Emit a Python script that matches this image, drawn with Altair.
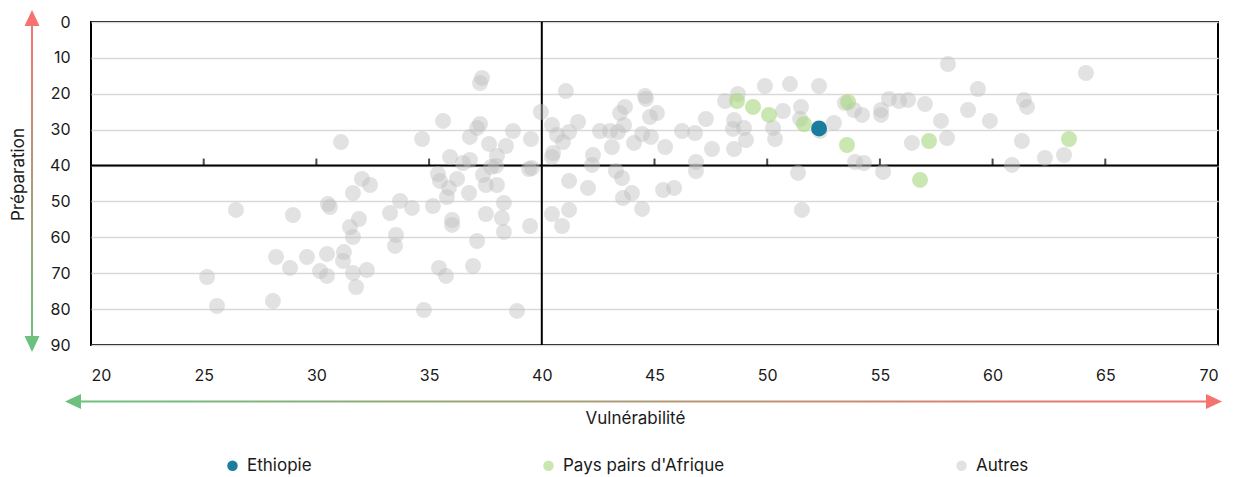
import altair as alt
import pandas as pd

# ---- data ----
autres_x = [25.15, 25.59, 26.43, 28.07, 28.21, 28.83, 28.96, 29.58, 30.16, 30.47, 30.47, 30.51, 30.60,
            31.09, 31.22, 31.18, 31.49, 31.62, 31.62, 31.76, 31.62, 31.89, 32.02, 32.38, 32.24, 33.27,
            33.53, 33.49, 33.71, 34.24, 34.69, 34.77, 35.17, 35.39, 35.48, 35.44, 35.62, 35.75, 35.79,
            35.93, 36.02, 36.02, 35.88, 36.24, 36.50, 36.81, 36.77, 36.81, 37.13, 37.26, 36.95, 37.35,
            37.26, 37.13, 37.39, 37.52, 37.66, 37.52, 37.75, 38.01, 38.01, 37.97, 38.32, 38.23, 38.32,
            38.41, 38.72, 38.90, 39.43, 39.48, 39.52, 39.96, 40.45, 40.67, 40.94, 41.21, 41.61, 40.50,
            40.45, 39.56, 41.07, 41.21, 40.45, 41.21, 40.90, 42.27, 42.23, 42.05, 42.58, 43.03, 43.38,
            43.11, 43.69, 43.47, 43.65, 44.09, 44.45, 44.84, 44.58, 44.62, 44.80, 45.11, 45.47, 43.29,
            43.56, 44.00, 43.60, 44.45, 45.38, 45.87, 46.22, 46.80, 47.28, 47.55, 46.84, 46.84, 48.13,
            48.70, 48.53, 48.48, 48.97, 49.06, 48.53, 49.90, 51.01, 52.30, 50.70, 51.50, 51.46, 50.26,
            50.35, 52.96, 51.37, 51.54, 52.34, 53.45, 53.85, 54.21, 53.90, 54.29, 55.40, 55.85, 56.25,
            55.05, 55.05, 57.00, 56.42, 55.14, 58.02, 57.71, 57.98, 58.91, 59.35, 59.88, 60.86, 61.30,
            61.39, 61.53, 62.32, 63.17, 64.14]
autres_y = [71.05, 79.13, 52.38, 77.74, 65.48, 68.54, 53.78, 65.48, 69.38, 64.64, 70.77, 50.71, 51.55,
            33.44, 64.09, 66.59, 57.12, 59.91, 47.65, 73.84, 69.94, 54.89, 43.74, 45.42, 69.10, 53.22,
            59.35, 62.41, 49.87, 51.82, 32.60, 80.25, 51.27, 42.35, 44.30, 68.54, 27.58, 70.77, 48.76,
            37.61, 55.17, 56.56, 46.25, 43.74, 39.29, 38.45, 47.65, 32.04, 29.53, 28.42, 67.99, 15.60,
            17.00, 61.02, 42.63, 45.42, 33.99, 53.50, 40.40, 45.42, 37.34, 40.12, 58.51, 54.61, 50.43,
            34.55, 30.37, 80.52, 40.96, 56.84, 32.60, 25.08, 28.70, 31.49, 33.44, 30.65, 27.86, 36.50,
            37.61, 40.68, 19.23, 44.30, 53.50, 52.38, 56.84, 37.06, 39.84, 46.25, 30.37, 30.37, 30.65,
            34.83, 23.68, 25.36, 28.70, 33.71, 31.21, 32.04, 20.62, 21.45, 26.47, 25.36, 34.83, 41.52,
            43.47, 47.65, 49.04, 52.10, 46.81, 46.25, 30.37, 30.93, 27.03, 35.39, 39.01, 41.52, 22.01,
            20.06, 27.31, 29.81, 29.53, 32.88, 35.39, 17.83, 17.28, 17.83, 24.80, 23.68, 27.03, 29.53,
            32.60, 28.14, 42.07, 52.38, 30.37, 22.57, 24.52, 25.91, 39.01, 39.29, 21.45, 22.01, 21.73,
            24.52, 25.91, 22.85, 33.71, 41.79, 11.70, 27.58, 32.32, 24.52, 18.67, 27.58, 39.84, 33.16,
            21.73, 23.68, 37.89, 37.06, 14.21]

pairs_x = [48.66, 49.37, 50.08, 51.63, 53.59, 53.54, 57.18, 56.78, 63.39]
pairs_y = [22.01, 23.68, 25.91, 28.42, 22.29, 34.27, 33.16, 44.02, 32.60]

ethiopie_x = [52.30]
ethiopie_y = [29.67]

groups = ["Ethiopie", "Pays pairs d'Afrique", "Autres"]
group_colors = ["rgba(20,122,156,0.97)", "rgba(170,216,130,0.62)", "rgba(190,190,190,0.45)"]

x_ticks = [20, 25, 30, 35, 40, 45, 50, 55, 60, 65, 70]
y_ticks = [0, 10, 20, 30, 40, 50, 60, 70, 80, 90]
inner_ticks = [25, 30, 35, 45, 50, 55, 60, 65]
threshold_x = 40
threshold_y = 40

x_title = "Vulnérabilité"
y_title = "Préparation"

FONT = "Inter"
RED = "#f4736f"
GREEN = "#6cc17c"
TXT = "#1a1a1a"

# ---- tables ----
pts = pd.DataFrame(
    [{"x": a, "y": b, "groupe": "Autres"} for a, b in zip(autres_x, autres_y)]
    + [{"x": a, "y": b, "groupe": "Pays pairs d'Afrique"} for a, b in zip(pairs_x, pairs_y)]
    + [{"x": a, "y": b, "groupe": "Ethiopie"} for a, b in zip(ethiopie_x, ethiopie_y)]
)
pts["ordre"] = range(len(pts))

xscale = alt.Scale(domain=[20, 70], nice=False, zero=False)
yscale = alt.Scale(domain=[0, 90], reverse=True, nice=False, zero=False)

x_axis = alt.Axis(values=x_ticks, grid=False, ticks=False, domain=False, labelFontSize=16,
                  labelPadding=22, labelFont=FONT, labelColor=TXT,
                  title=x_title, titleFont=FONT, titleFontSize=17, titleFontWeight="normal",
                  titleColor=TXT, titleX=544, titleY=73, titleBaseline="middle")
y_axis = alt.Axis(values=y_ticks, grid=True, gridColor="#d9d9d9", gridWidth=1.5, ticks=False,
                  domain=False, labelFontSize=16, labelPadding=21, labelFont=FONT,
                  labelColor=TXT, title=y_title, titleFont=FONT, titleFontSize=17,
                  titleFontWeight="normal", titleColor=TXT, titleX=-73, titleY=152,
                  titleBaseline="middle", titleAngle=-90)


def X(field):
    return alt.X(field, scale=xscale, axis=x_axis, title=x_title)


def Y(field):
    return alt.Y(field, scale=yscale, axis=y_axis, title=y_title)


one = pd.DataFrame({"k": [0]})

vline = alt.Chart(one).mark_rule(color="black", strokeWidth=2).encode(
    x=X("xv:Q")
).transform_calculate(xv=str(threshold_x))
hline = alt.Chart(one).mark_rule(color="black", strokeWidth=2).encode(
    y=Y("yv:Q")
).transform_calculate(yv=str(threshold_y))

ticks = alt.Chart(pd.DataFrame({"t": inner_ticks, "yy": [threshold_y] * len(inner_ticks)})).mark_tick(
    orient="vertical", size=7, thickness=2, color="black", yOffset=-3.5
).encode(x=X("t:Q"), y=Y("yy:Q"))

points = alt.Chart(pts).mark_circle(size=254, opacity=1, strokeWidth=0).encode(
    x=X("x:Q"),
    y=Y("y:Q"),
    color=alt.Color("groupe:N", scale=alt.Scale(domain=groups, range=group_colors),
                    legend=alt.Legend(orient="none", legendX=133, legendY=435, direction="horizontal",
                                      title=None, labelFont=FONT, labelFontSize=17, labelColor=TXT,
                                      labelLimit=500, symbolType="circle", symbolSize=110,
                                      columnPadding=228, padding=0, labelOffset=6,
                                      symbolStrokeWidth=0)),
    order=alt.Order("ordre:Q"),
)

# arrows (decoration)
vgrad = {"gradient": "linear", "x1": 0, "y1": 0, "x2": 0, "y2": 1,
         "stops": [{"offset": 0, "color": RED}, {"offset": 1, "color": GREEN}]}
hgrad = {"gradient": "linear", "x1": 0, "y1": 0, "x2": 1, "y2": 0,
         "stops": [{"offset": 0, "color": GREEN}, {"offset": 1, "color": RED}]}

varrow = alt.Chart(one).mark_rect(fill=vgrad).encode(
    x=alt.value(-60), x2=alt.value(-58), y=alt.value(2), y2=alt.value(316))
harrow = alt.Chart(one).mark_rect(fill=hgrad).encode(
    x=alt.value(-12), x2=alt.value(1118), y=alt.value(378.5), y2=alt.value(380.5))


def head(path, color, x, y):
    return alt.Chart(one).mark_point(shape=path, filled=True, fill=color, opacity=1,
                                     size=225, strokeWidth=0).encode(x=alt.value(x), y=alt.value(y))


up = head("M0,-1.07L1,1.07L-1,1.07Z", RED, -59, -4)
down = head("M0,1.07L1,-1.07L-1,-1.07Z", GREEN, -59, 322)
left = head("M-1.07,0L1.07,-1L1.07,1Z", GREEN, -18, 379.5)
right = head("M1.07,0L-1.07,-1L-1.07,1Z", RED, 1123, 379.5)

chart = alt.layer(vline, hline, ticks, points, varrow, harrow, up, down, left, right).properties(
    width=1127, height=323,
    padding={"left": 83, "top": 14, "right": 13, "bottom": 132},
    autosize=alt.AutoSizeParams(type="none"),
).configure(font=FONT).configure_view(stroke="black", strokeWidth=2)

chart.save("out.html", embed_options={"renderer": "svg", "actions": False})
